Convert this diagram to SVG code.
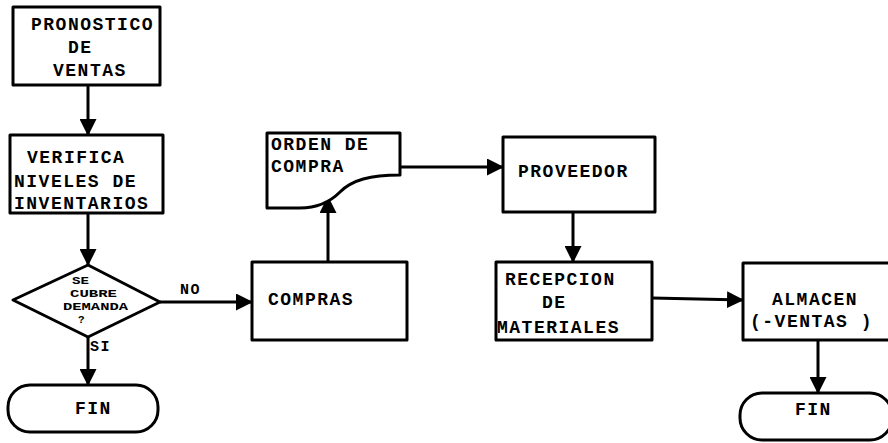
<svg xmlns="http://www.w3.org/2000/svg" width="888" height="443" viewBox="0 0 888 443">
<style>
.s{fill:#fff;stroke:#000;stroke-width:3;stroke-linejoin:round}
.t{font-family:"Liberation Mono","Courier New",monospace;font-size:18px;font-weight:bold;letter-spacing:1.5px;fill:#000}
.d{font-family:"Liberation Mono","Courier New",monospace;font-size:11px;font-weight:bold;fill:#000}
.c{fill:none;stroke:#000;stroke-width:3}
</style>
<defs>
<marker id="ah" markerUnits="userSpaceOnUse" markerWidth="17" markerHeight="17" refX="16" refY="8.5" orient="auto">
<path d="M0,0 L17,8.5 L0,17 z" fill="#000"/>
</marker>
</defs>
<rect width="888" height="443" fill="#fff"/>
<g id="connectors">
<line class="c" x1="88" y1="85" x2="88" y2="135" marker-end="url(#ah)"/>
<line class="c" x1="88" y1="213" x2="88" y2="265" marker-end="url(#ah)"/>
<line class="c" x1="160" y1="302" x2="252" y2="302" marker-end="url(#ah)"/>
<line class="c" x1="88" y1="337" x2="88" y2="385" marker-end="url(#ah)"/>
<line class="c" x1="328" y1="262" x2="328" y2="197" marker-end="url(#ah)"/>
<line class="c" x1="400" y1="167" x2="503" y2="167" marker-end="url(#ah)"/>
<line class="c" x1="573" y1="212" x2="573" y2="262" marker-end="url(#ah)"/>
<line class="c" x1="652" y1="298" x2="743" y2="300" marker-end="url(#ah)"/>
<line class="c" x1="818" y1="340" x2="818" y2="393" marker-end="url(#ah)"/>
<text class="t" x="180" y="294" style="font-size:15px">NO</text>
<text class="t" x="90" y="351" style="font-size:15px">SI</text>
</g>
<g id="pronostico">
<rect class="s" x="13" y="7" width="147" height="78"/>
<text class="t" x="31" y="30">PRONOSTICO</text>
<text class="t" x="68" y="53">DE</text>
<text class="t" x="53" y="76">VENTAS</text>
</g>
<g id="verifica">
<rect class="s" x="10" y="135" width="153" height="78"/>
<text class="t" x="27" y="163">VERIFICA</text>
<text class="t" x="14" y="187">NIVELES DE</text>
<text class="t" x="14" y="209">INVENTARIOS</text>
</g>
<g id="decision">
<polygon class="s" points="13,300 88,265 160,302 88,337"/>
<text class="d" x="72" y="284" textLength="17" lengthAdjust="spacingAndGlyphs">SE</text>
<text class="d" x="70" y="297" textLength="47" lengthAdjust="spacingAndGlyphs">CUBRE</text>
<text class="d" x="63" y="310" textLength="65" lengthAdjust="spacingAndGlyphs">DEMANDA</text>
<text class="d" x="78" y="323">?</text>
</g>
<g id="fin1">
<rect class="s" x="8" y="385" width="150" height="47" rx="22" ry="22"/>
<text class="t" x="75" y="414">FIN</text>
</g>
<g id="compras">
<rect class="s" x="252" y="262" width="155" height="78"/>
<text class="t" x="268" y="305">COMPRAS</text>
</g>
<g id="orden">
<path class="s" d="M267,133 H400 V175 C370,175 352,180 340,192 C330,202 318,208 300,208 H267 Z"/>
<text class="t" x="271" y="150">ORDEN DE</text>
<text class="t" x="271" y="172">COMPRA</text>
</g>
<g id="proveedor">
<rect class="s" x="503" y="137" width="152" height="75"/>
<text class="t" x="518" y="177">PROVEEDOR</text>
</g>
<g id="recepcion">
<rect class="s" x="496" y="262" width="156" height="78"/>
<text class="t" x="505" y="285">RECEPCION</text>
<text class="t" x="542" y="308">DE</text>
<text class="t" x="497" y="333">MATERIALES</text>
</g>
<g id="almacen">
<rect class="s" x="743" y="263" width="150" height="77"/>
<text class="t" x="772" y="305">ALMACEN</text>
<text class="t" x="750" y="327">(-VENTAS )</text>
</g>
<g id="fin2">
<rect class="s" x="740" y="393" width="152" height="47" rx="22" ry="22"/>
<text class="t" x="795" y="415">FIN</text>
</g>
</svg>
